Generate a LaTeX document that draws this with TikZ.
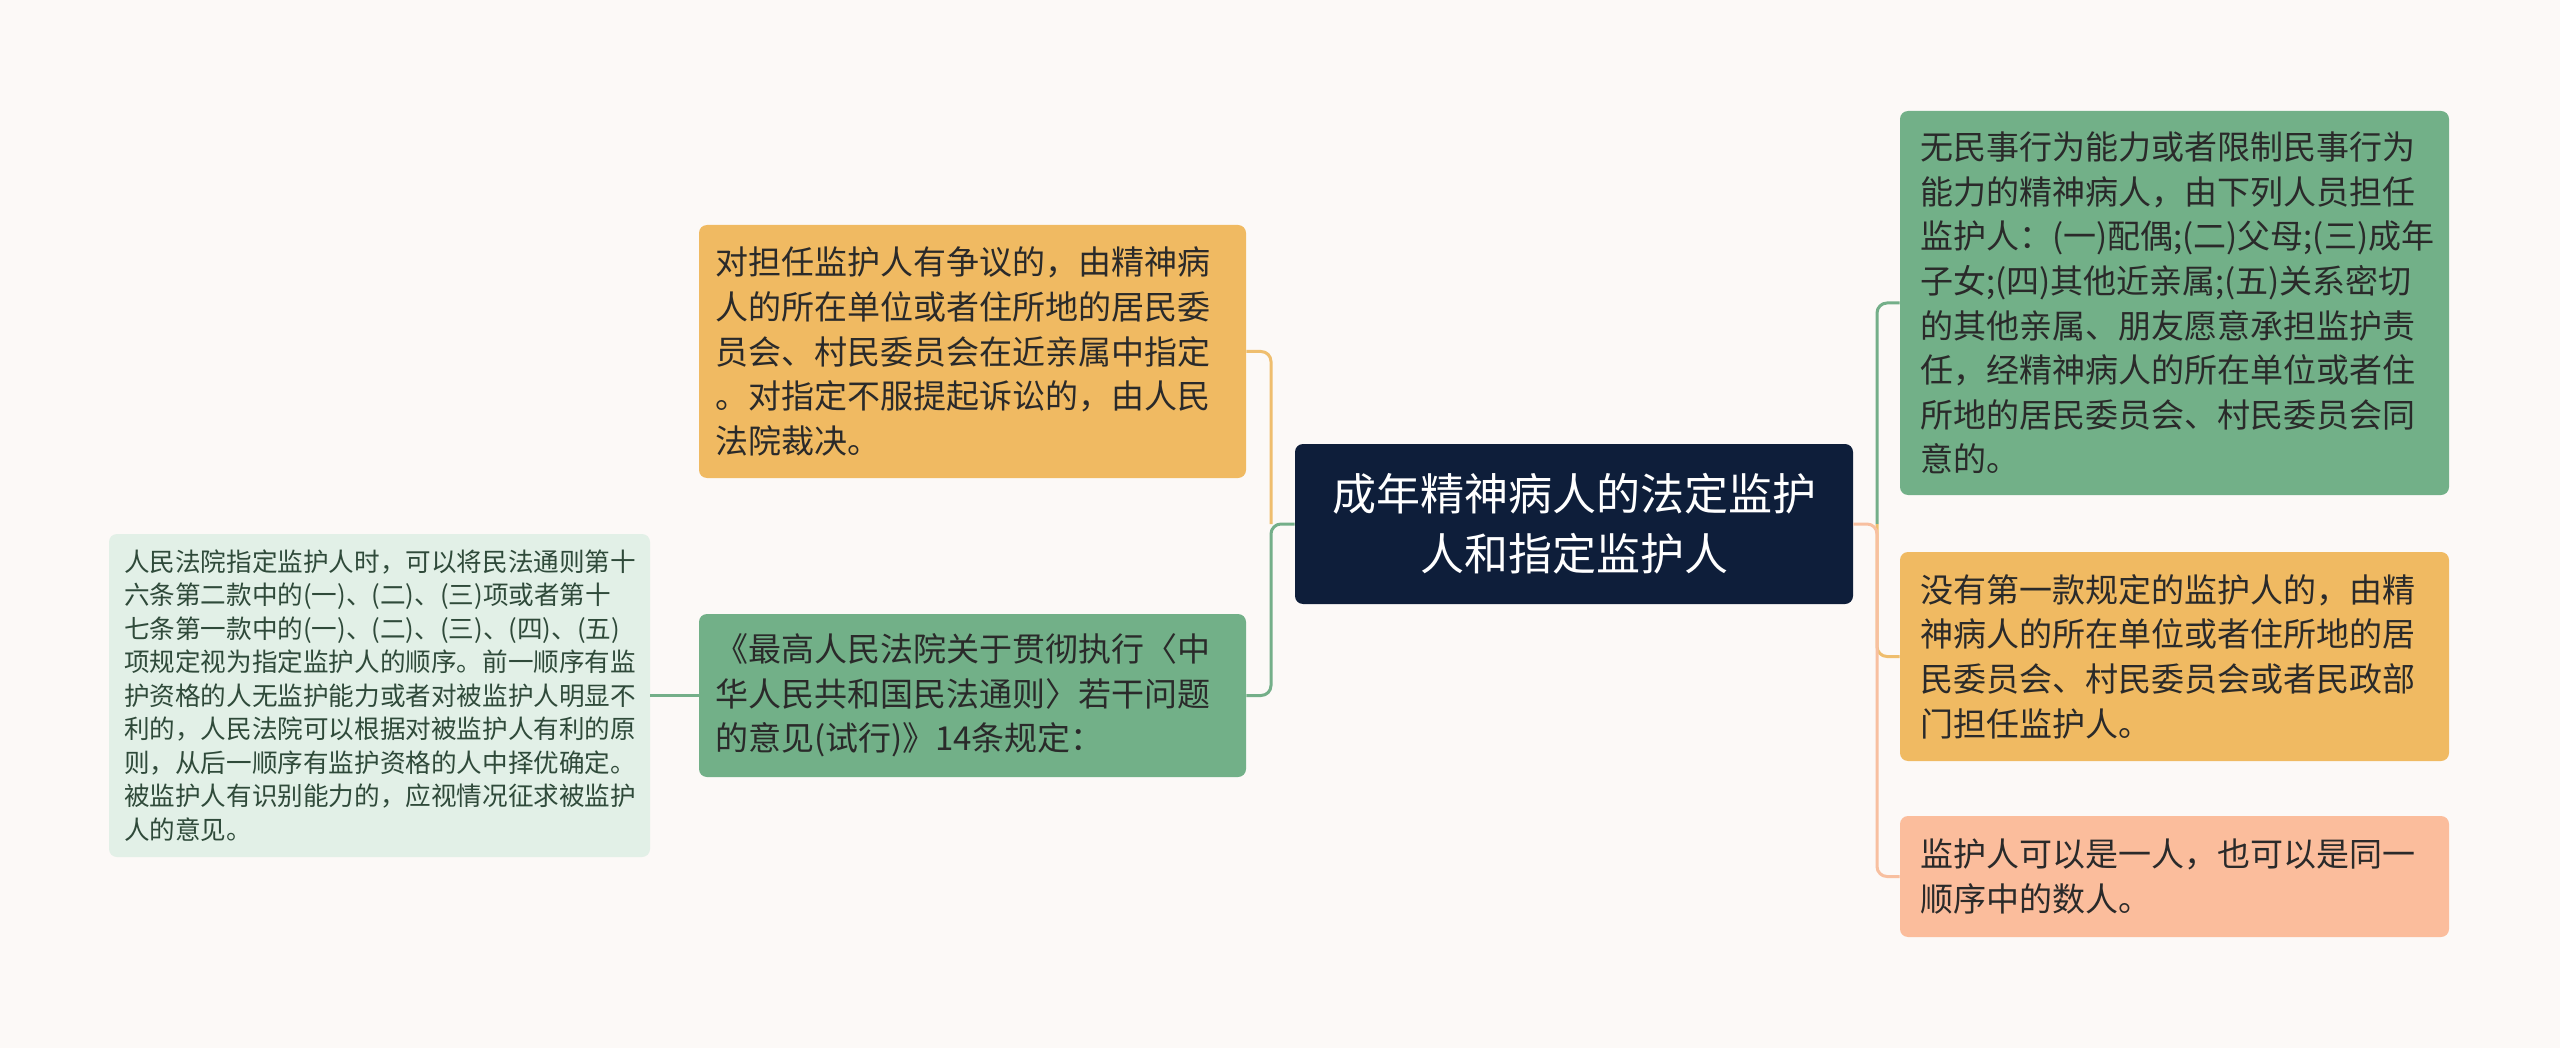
\documentclass[tikz,border=0pt]{standalone}
\usepackage{fontspec}
\newfontfamily\cjk{Noto Sans CJK SC}
\definecolor{bg}{HTML}{FCF9F7}
\definecolor{navy}{HTML}{0E1E3A}
\definecolor{orng}{HTML}{F0BA62}
\definecolor{grn}{HTML}{72B088}
\definecolor{lgrn}{HTML}{E2F0E7}
\definecolor{salm}{HTML}{FBBD9C}
\definecolor{txt}{HTML}{2A2A2A}
\definecolor{ctxt}{HTML}{2F4A3A}
\definecolor{lorng}{HTML}{EFBE6E}
\definecolor{lgrnl}{HTML}{74AF89}
\definecolor{lsalm}{HTML}{F8C0A0}
\tikzset{
  box/.style={rounded corners=4pt, inner ysep=0pt, align=left, text=txt,
    font={\cjk\fontsize{16.5pt}{22.3pt}\selectfont}},
  boxl/.style={box, inner xsep=8pt, text width=257.5pt, minimum width=273.5pt},
  boxr/.style={box, inner xsep=10pt, text width=254.5pt, minimum width=274.5pt},
  conn/.style={line width=1.5pt, rounded corners=5pt},
}
\begin{document}
\begin{tikzpicture}[x=0.5pt,y=-0.5pt]
\fill[bg] (0,0) rectangle (2560,1048);
\useasboundingbox (0,0) rectangle (2560,1048);

\node[rounded corners=4pt, fill=navy, text=white, align=center, inner sep=0pt,
  minimum width=279pt, minimum height=80pt,
  font={\cjk\fontsize{22pt}{30pt}\selectfont}] (ctr) at (1574,524)
  {成年精神病人的法定监护\\人和指定监护人};

\node[boxl, fill=orng, minimum height=126.5pt] (a) at (972.5,351.5)
  {对担任监护人有争议的，由精神病\\人的所在单位或者住所地的居民委\\员会、村民委员会在近亲属中指定\\。对指定不服提起诉讼的，由人民\\法院裁决。};

\node[boxl, fill=grn, minimum height=81.5pt] (b) at (972.5,695.5)
  {《最高人民法院关于贯彻执行〈中\\华人民共和国民法通则〉若干问题\\的意见(试行)》14条规定：};

\node[box, fill=lgrn, text=ctxt, inner xsep=7.5pt, text width=255.5pt,
  minimum width=270.5pt, minimum height=161.5pt,
  font={\cjk\fontsize{12.8pt}{16.75pt}\selectfont}] (c) at (379.5,695.5)
  {人民法院指定监护人时，可以将民法通则第十\\六条第二款中的(一)、(二)、(三)项或者第十\\七条第一款中的(一)、(二)、(三)、(四)、(五)\\项规定视为指定监护人的顺序。前一顺序有监\\护资格的人无监护能力或者对被监护人明显不\\利的，人民法院可以根据对被监护人有利的原\\则，从后一顺序有监护资格的人中择优确定。\\被监护人有识别能力的，应视情况征求被监护\\人的意见。};

\node[boxr, fill=grn, minimum height=192pt] (d) at (2174.5,303)
  {无民事行为能力或者限制民事行为\\能力的精神病人，由下列人员担任\\监护人：(一)配偶;(二)父母;(三)成年\\子女;(四)其他近亲属;(五)关系密切\\的其他亲属、朋友愿意承担监护责\\任，经精神病人的所在单位或者住\\所地的居民委员会、村民委员会同\\意的。};

\node[boxr, fill=orng, minimum height=104.5pt] (e) at (2174.5,656.5)
  {没有第一款规定的监护人的，由精\\神病人的所在单位或者住所地的居\\民委员会、村民委员会或者民政部\\门担任监护人。};

\node[boxr, fill=salm, minimum height=60.5pt] (f) at (2174.5,876.5)
  {监护人可以是一人，也可以是同一\\顺序中的数人。};

% left connectors
\coordinate (jl) at (1271,524);
\draw[conn, lorng] (jl) -- (jl |- a.east) -- (a.east);
\draw[conn, lgrnl] (ctr.west) -- (jl) -- (jl |- b.east) -- (b.east);
\draw[line width=1.5pt, lgrnl] (c.east) -- (b.west);

% right connectors
\coordinate (jr) at (1877,524);
\draw[conn, lgrnl] (jr) -- (jr |- d.west) -- (d.west);
\draw[conn, lorng] (jr) -- (jr |- e.west) -- (e.west);
\draw[conn, lsalm] (ctr.east) -- (jr) -- (jr |- f.west) -- (f.west);
\end{tikzpicture}
\end{document}
